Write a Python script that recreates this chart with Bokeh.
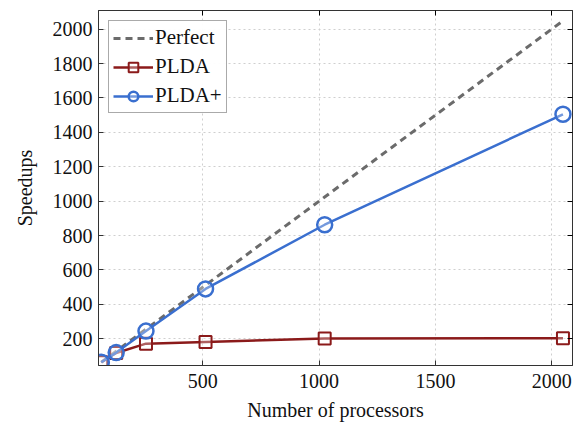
from bokeh.plotting import figure
from bokeh.models import LinearAxis, Range1d, FixedTicker, Legend, LegendItem
from bokeh.embed import file_html
from bokeh.resources import INLINE

processors = [64, 128, 256, 512, 1024, 2048]
perfect = [64, 128, 256, 512, 1024, 2048]
plda = [64, 118, 172, 182, 202, 204]
plda_plus = [64, 120, 245, 490, 863, 1505]
x_ticks = [500, 1000, 1500, 2000]
y_ticks = [200, 400, 600, 800, 1000, 1200, 1400, 1600, 1800, 2000]

FONT = "'Liberation Serif', 'Times New Roman', serif"

p = figure(width=577, height=428, output_backend="svg", toolbar_location=None,
           frame_width=474, frame_height=355,
           x_range=Range1d(52, 2089), y_range=Range1d(45, 2108),
           min_border_left=98, min_border_right=5, min_border_top=10, min_border_bottom=63)
p.background_fill_color = "white"
p.border_fill_color = "white"
p.outline_line_color = "#333333"
p.outline_line_width = 1

for ax in p.xaxis + p.yaxis:
    ax.major_label_text_font = FONT
    ax.major_label_text_font_size = "20px"
    ax.major_label_text_color = "#111111"
    ax.axis_label_text_font = FONT
    ax.axis_label_text_font_size = "20px"
    ax.axis_label_text_font_style = "normal"
    ax.axis_label_text_color = "#111111"
    ax.major_tick_in = 5
    ax.major_tick_out = 0
    ax.minor_tick_line_color = None
    ax.axis_line_color = "#333333"
    ax.major_tick_line_color = "#333333"

p.xaxis.ticker = FixedTicker(ticks=x_ticks)
p.yaxis.ticker = FixedTicker(ticks=y_ticks)
p.xaxis.axis_label = "Number of processors"
p.yaxis.axis_label = "Speedups"
p.xaxis.major_label_standoff = 8
p.xaxis.axis_label_standoff = 8
p.yaxis.major_label_standoff = 6
p.yaxis.axis_label_standoff = 14

top = LinearAxis(ticker=FixedTicker(ticks=x_ticks), major_label_text_font_size="0px",
                 major_tick_in=5, major_tick_out=0, minor_tick_line_color=None,
                 axis_line_color="#333333", major_label_standoff=0)
right = LinearAxis(ticker=FixedTicker(ticks=y_ticks), major_label_text_font_size="0px",
                   major_tick_in=5, major_tick_out=0, minor_tick_line_color=None,
                   axis_line_color="#333333", major_label_standoff=0)
top.major_label_overrides = {t: "" for t in x_ticks}
right.major_label_overrides = {t: "" for t in y_ticks}
p.add_layout(top, "above")
p.add_layout(right, "right")

p.xgrid.ticker = FixedTicker(ticks=x_ticks)
p.ygrid.ticker = FixedTicker(ticks=y_ticks)
p.grid.grid_line_color = "#cfcfcf"
p.grid.grid_line_dash = "2 3"
p.grid.grid_line_width = 1

r_perf = p.line(processors, perfect, line_color="#6b6b6b", line_width=3, line_dash="7 5")

plda_color = "#8b1a1a"
plus_color = "#3a6fcf"
r_plda_l = p.line(processors, plda, line_color=plda_color, line_width=2.5)
r_plda_m = p.scatter(processors, plda, marker="square", size=12, line_color=plda_color,
                     line_width=2, fill_color="white", fill_alpha=0.3)
r_plus_l = p.line(processors, plda_plus, line_color=plus_color, line_width=2.5)
r_plus_m = p.scatter(processors, plda_plus, marker="circle", size=15, line_color=plus_color,
                     line_width=2.5, fill_color="white", fill_alpha=0.3)

legend = Legend(items=[
    LegendItem(label="Perfect", renderers=[r_perf]),
    LegendItem(label="PLDA", renderers=[r_plda_l, r_plda_m]),
    LegendItem(label="PLDA+", renderers=[r_plus_l, r_plus_m]),
], location="top_left")
legend.label_text_font = FONT
legend.label_text_font_size = "21px"
legend.label_text_color = "#111111"
legend.border_line_color = "#555555"
legend.border_line_width = 1
legend.glyph_width = 40
legend.glyph_height = 24
legend.label_standoff = 2
legend.spacing = 4
legend.padding = 4
legend.margin = 10
legend.label_height = 24
p.add_layout(legend)

open("out.html", "w").write(file_html(p, INLINE))
